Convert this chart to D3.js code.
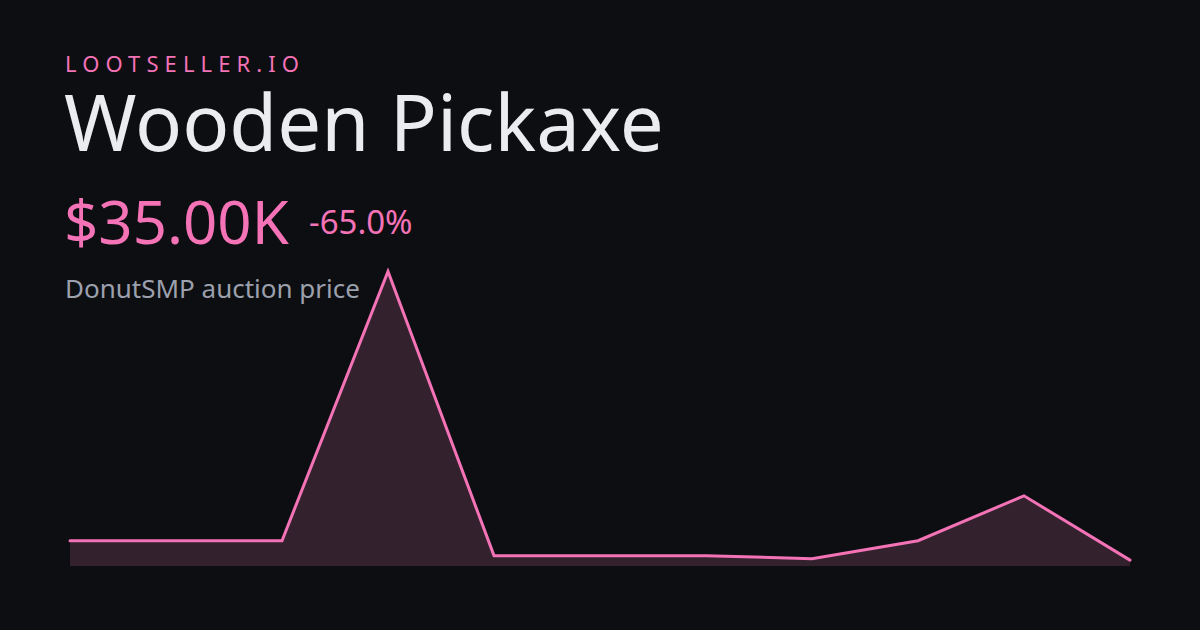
<!DOCTYPE html>
<html>
<head>
<meta charset="utf-8">
<script src="https://cdn.jsdelivr.net/npm/d3@7"></script>
<style>
  html, body { margin: 0; padding: 0; background: #0d0e12; }
  svg { display: block; }
</style>
</head>
<body>
<svg id="card" width="1200" height="630"></svg>
<script>
// price history (USD), oldest -> newest
var points = [0, 1, 2, 3, 4, 5, 6, 7, 8, 9, 10];
var prices = [100000, 100000, 100000, 1000000, 50000, 50000, 50000, 40000, 100000, 250000, 35000];

var brand = "LOOTSELLER.IO";
var itemName = "Wooden Pickaxe";
var subtitle = "DonutSMP auction price";

var pink = "#f472b6";
var W = 1200, H = 630;

var svg = d3.select("#card");

svg.append("rect")
    .attr("width", W)
    .attr("height", H)
    .attr("fill", "#0d0e12");

var last = prices[prices.length - 1];
var first = prices[0];
var change = (last - first) / first * 100;

function fmtPrice(v) {
    if (v >= 1e6) return "$" + (v / 1e6).toFixed(2) + "M";
    if (v >= 1e3) return "$" + (v / 1e3).toFixed(2) + "K";
    return "$" + v.toFixed(2);
}

svg.append("text")
    .attr("x", 65)
    .attr("y", 72)
    .attr("font-family", "Noto Sans")
    .attr("font-size", 22)
    .attr("letter-spacing", "6.1px")
    .attr("fill", pink)
    .text(brand);

svg.append("text")
    .attr("x", 64)
    .attr("y", 151)
    .attr("font-family", "Noto Sans")
    .attr("font-size", 78)
    .attr("fill", "#ebecf0")
    .text(itemName);

svg.append("text")
    .attr("x", 64)
    .attr("y", 244)
    .attr("font-family", "Noto Sans")
    .attr("font-size", 60)
    .attr("fill", pink)
    .text(fmtPrice(last));

svg.append("text")
    .attr("x", 309)
    .attr("y", 234)
    .attr("font-family", "Noto Sans")
    .attr("font-size", 33)
    .attr("fill", pink)
    .text((change > 0 ? "+" : "") + change.toFixed(1) + "%");

svg.append("text")
    .attr("x", 65)
    .attr("y", 298)
    .attr("font-family", "Noto Sans")
    .attr("font-size", 26)
    .attr("fill", "#9ca0ad")
    .text(subtitle);

// sparkline
var x = d3.scaleLinear()
    .domain(d3.extent(points))
    .range([70, 1130]);

var y = d3.scaleLinear()
    .domain([0, d3.max(prices)])
    .range([570.6, 271.5]);

var baseline = 566;

var area = d3.area()
    .x(function (d, i) { return x(points[i]); })
    .y0(baseline)
    .y1(function (d) { return y(d); });

var line = d3.line()
    .x(function (d, i) { return x(points[i]); })
    .y(function (d) { return y(d); });

svg.append("path")
    .datum(prices)
    .attr("d", area)
    .attr("fill", "#33212d");

svg.append("path")
    .datum(prices)
    .attr("d", line)
    .attr("fill", "none")
    .attr("stroke", pink)
    .attr("stroke-width", 3)
    .attr("stroke-linejoin", "miter")
    .attr("stroke-linecap", "round");
</script>
</body>
</html>
